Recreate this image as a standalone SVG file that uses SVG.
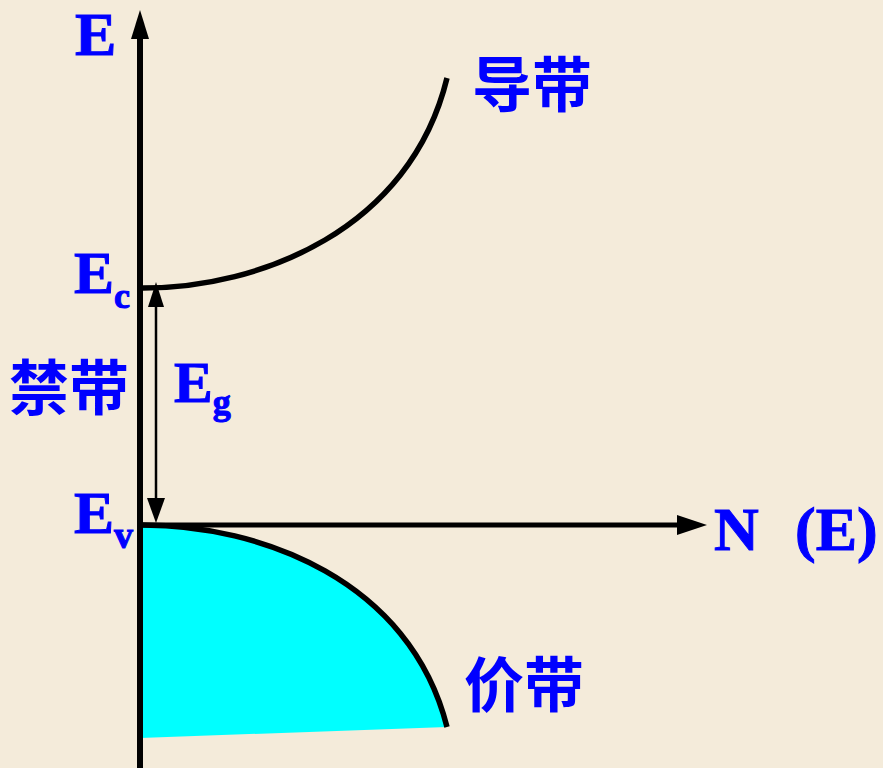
<svg xmlns="http://www.w3.org/2000/svg" width="883" height="768" viewBox="0 0 883 768">
<style>
.bg{fill:#F4EBDA}
.lat{font-family:"Liberation Serif","Times New Roman",serif;font-weight:bold;fill:#0000FF;stroke:#0000FF;stroke-width:1}
.cjk{font-family:"Noto Sans CJK SC","Noto Sans CJK TC",sans-serif;font-weight:bold;fill:#0000FF;font-size:60px}
.axis{stroke:#000;stroke-width:6;fill:none}
.curve{stroke:#000;stroke-width:5.5;fill:none;stroke-linecap:butt}
.thin{stroke:#000;stroke-width:2.5;fill:none}
.head{fill:#000}
</style>
<rect class="bg" x="0" y="0" width="883" height="768"/>

<g id="valence-band">
  <path d="M140,525 L143,525 C260,525 410,580 447,727 L140,738 Z" fill="#00FFFF"/>
  <path class="curve" d="M143,525 C260,525 410,580 447,727"/>
</g>

<g id="conduction-band">
  <path class="curve" d="M143,288 C260,288 410,230 447,78"/>
</g>

<g id="connectors">
  <line class="axis" x1="140" y1="768" x2="140" y2="36"/>
  <polygon class="head" points="131,39 140,10 149,39"/>
  <line class="axis" x1="137" y1="525" x2="680" y2="525" style="stroke-width:5"/>
  <polygon class="head" points="677,515 707,525 677,535"/>
  <line class="thin" x1="156" y1="302" x2="156" y2="503"/>
  <polygon class="head" points="148,307 156,282 164,307"/>
  <polygon class="head" points="147,498 156,523 165,498"/>
</g>

<g id="label-E"><text class="lat" x="75" y="55" font-size="62">E</text></g>
<g id="label-Ec"><text class="lat" x="74" y="293" font-size="60">E<tspan font-size="36" y="308">c</tspan></text></g>
<g id="label-Eg"><text class="lat" x="174" y="402" font-size="58">E<tspan font-size="36" y="414">g</tspan></text></g>
<g id="label-Ev"><text class="lat" x="74" y="533" font-size="60">E<tspan font-size="38" y="548">v</tspan></text></g>
<g id="label-NE"><text class="lat" x="714" y="550" font-size="62">N<tspan x="795">(</tspan>E)</text></g>
<g id="label-gap"><text class="cjk" x="9" y="410">禁带</text></g>
<g id="label-conduction"><text class="cjk" x="472" y="107">导带</text></g>
<g id="label-valence"><text class="cjk" x="464" y="707">价带</text></g>
</svg>
